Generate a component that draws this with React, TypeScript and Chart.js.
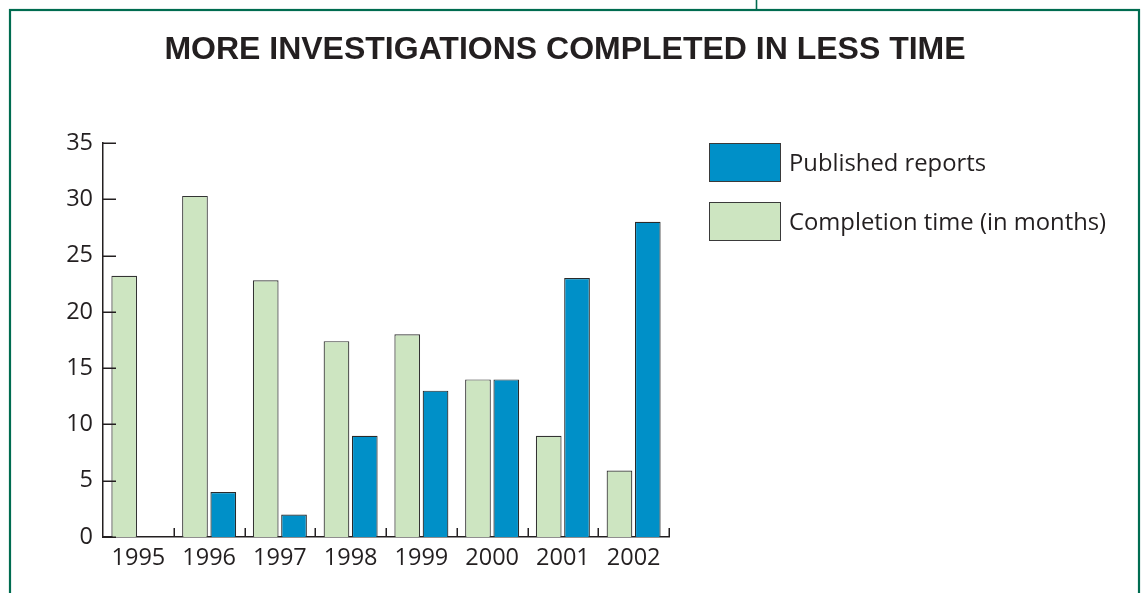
import React, { useEffect, useRef } from "react";
import { Chart, registerables } from "chart.js";

Chart.register(...registerables);

const titleText = "MORE INVESTIGATIONS COMPLETED IN LESS TIME";
const years = ["1995", "1996", "1997", "1998", "1999", "2000", "2001", "2002"];
const completionTime = [23.2, 30.3, 22.8, 17.4, 18, 14, 9, 5.9];
const publishedReports = [0, 4, 2, 9, 13, 14, 23, 28];
const yTickValues = [0, 5, 10, 15, 20, 25, 30, 35];
const legendLabels = ["Published reports", "Completion time (in months)"];

const GREEN = "#cde5c1";
const BLUE = "#0090c8";
const INK = "#231f20";
const FRAME = "#006c50";
const TICK_FONT = "'Open Sans', 'Noto Sans', sans-serif";

const decoPlugin = {
  id: "deco",
  beforeDraw(chart: any) {
    const ctx = chart.ctx;
    ctx.save();
    ctx.fillStyle = "#ffffff";
    ctx.fillRect(0, 0, chart.width, chart.height);
    // frame
    ctx.strokeStyle = FRAME;
    ctx.lineWidth = 2.2;
    ctx.strokeRect(10, 10, 1129, 700);
    ctx.lineWidth = 1.6;
    ctx.beginPath();
    ctx.moveTo(756.5, 0);
    ctx.lineTo(756.5, 10);
    ctx.stroke();
    // title
    ctx.fillStyle = INK;
    ctx.font = "bold 32px 'Liberation Sans', Arial, sans-serif";
    ctx.textAlign = "center";
    ctx.textBaseline = "alphabetic";
    ctx.fillText(titleText, 565, 59);
    ctx.restore();
  },
  afterDatasetsDraw(chart: any) {
    const ctx = chart.ctx;
    const x = chart.scales.x;
    const y = chart.scales.y;
    const { left, bottom } = chart.chartArea;
    ctx.save();
    ctx.strokeStyle = INK;
    ctx.lineWidth = 1.5;
    // y ticks inward
    yTickValues.forEach((v) => {
      const py = Math.round(y.getPixelForValue(v)) + 0.25;
      ctx.beginPath();
      ctx.moveTo(left, py);
      ctx.lineTo(left + 13, py);
      ctx.stroke();
    });
    // x ticks at category boundaries, pointing up
    for (let i = 1; i <= years.length; i++) {
      const px0 = x.getPixelForValue(i - 1);
      const half = (x.getPixelForValue(1) - x.getPixelForValue(0)) / 2;
      const px = Math.round(px0 + half) + 0.25;
      ctx.beginPath();
      ctx.moveTo(px, bottom);
      ctx.lineTo(px, bottom - 9);
      ctx.stroke();
    }
    ctx.restore();
  },
  afterDraw(chart: any) {
    const ctx = chart.ctx;
    const items = [
      { label: legendLabels[0], color: BLUE, y: 143 },
      { label: legendLabels[1], color: GREEN, y: 202 },
    ];
    ctx.save();
    items.forEach((it) => {
      ctx.fillStyle = it.color;
      ctx.fillRect(709, it.y, 72, 39);
      ctx.strokeStyle = "#3a3a3a";
      ctx.lineWidth = 1;
      ctx.strokeRect(709.5, it.y + 0.5, 71, 38);
      ctx.fillStyle = INK;
      ctx.font = `23.8px ${TICK_FONT}`;
      ctx.textAlign = "left";
      ctx.textBaseline = "middle";
      ctx.fillText(it.label, 789, it.y + 21);
    });
    ctx.restore();
  },
};

export default function App() {
  const ref = useRef<HTMLCanvasElement | null>(null);

  useEffect(() => {
    if (!ref.current) return;
    const chart = new Chart(ref.current, {
      type: "bar",
      data: {
        labels: years,
        datasets: [
          {
            label: legendLabels[1],
            data: completionTime,
            backgroundColor: GREEN,
            borderColor: "#333333",
            borderWidth: 1.2,
            barPercentage: 0.908,
            categoryPercentage: 0.8,
          },
          {
            label: legendLabels[0],
            data: publishedReports,
            backgroundColor: BLUE,
            borderColor: "#2a2a2a",
            borderWidth: 1.2,
            barPercentage: 0.908,
            categoryPercentage: 0.8,
          },
        ],
      },
      options: {
        responsive: false,
        animation: false,
        layout: { padding: { left: 0, right: 477, top: 143, bottom: 0 } },
        plugins: {
          legend: { display: false },
          title: { display: false },
          tooltip: { enabled: false },
        },
        scales: {
          x: {
            grid: { display: false, drawTicks: false },
            border: { display: true, color: INK, width: 1.5 },
            ticks: {
              color: INK,
              font: { family: TICK_FONT, size: 23.5 },
              padding: 7,
              maxRotation: 0,
            },
            afterFit: (scale: any) => {
              scale.height = 56;
            },
          },
          y: {
            min: 0,
            max: 35,
            grid: { display: false, drawTicks: false },
            border: { display: true, color: INK, width: 1.5 },
            ticks: {
              stepSize: 5,
              color: INK,
              font: { family: TICK_FONT, size: 23.5 },
              padding: 10,
            },
            afterFit: (scale: any) => {
              scale.width = 103;
            },
          },
        },
      },
      plugins: [decoPlugin],
    });
    return () => chart.destroy();
  }, []);

  return (
    <div style={{ position: "absolute", left: 0, top: 0, width: 1146, height: 593 }}>
      <canvas ref={ref} width={1146} height={593} style={{ display: "block" }} />
    </div>
  );
}
